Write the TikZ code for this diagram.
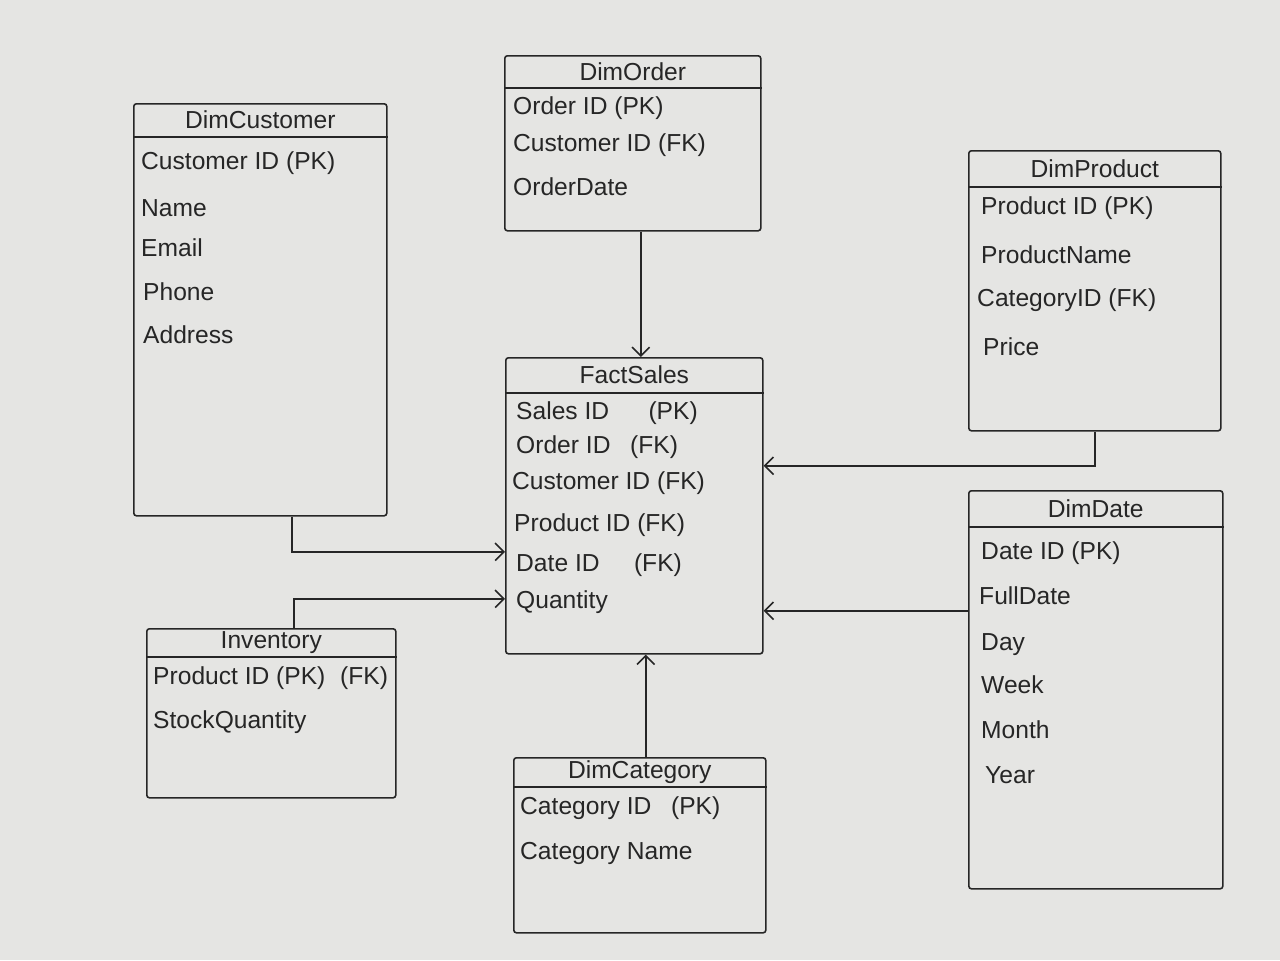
\documentclass[tikz,border=0pt]{standalone}
\usepackage{fontspec}
\setmainfont{Liberation Sans}
\usetikzlibrary{arrows.meta,calc}
\definecolor{paper}{RGB}{229,229,227}
\definecolor{ink}{RGB}{38,38,38}

\begin{document}
\begin{tikzpicture}[x=0.02cm,y=-0.02cm,
  tbl/.style={draw=ink,line width=0.9pt,rounded corners=1.5pt,inner sep=0pt,anchor=north west},
  ttl/.style={text=ink,font=\fontsize{14}{16}\selectfont},
  attr/.style={anchor=west,inner sep=0.5pt,text=ink,font=\fontsize{14}{16}\selectfont},
  link/.style={draw=ink,line width=0.9pt,-{Straight Barb[length=5pt,width=10pt]}}]
  \fill[paper] (0,0) rectangle (1280,960);
  % tables: name / x / y / width / height / header / title
  \foreach \n/\x/\y/\w/\h/\hd/\t in {cust/133/103/253/412/34/DimCustomer,
    ord/504/55/256/175/33/DimOrder, prod/968/150/252/280/37/DimProduct,
    fact/505/357/257/296/36/FactSales, date/968/490/254/398/37/DimDate,
    inv/146/628/249/169/29/Inventory, cat/513/757/252/175/30/DimCategory}{
    \node[tbl,minimum width=\w*0.02cm,minimum height=\h*0.02cm] (\n) at (\x,\y) {};
    \draw[ink,line width=0.9pt] ([yshift=-\hd*0.02cm]\n.north west) -- ([yshift=-\hd*0.02cm]\n.north east);
    \node[ttl] (\n-t) at ([yshift=-\hd*0.01cm]\n.north) {\t};}
  % attributes
  \foreach \n/\i/\x/\y/\s in {cust/1/140/163/Customer ID (PK), cust/2/140/208/Name,
    cust/3/140/248/Email, cust/4/142/292/Phone, cust/5/142/335/Address,
    ord/1/512/108/Order ID (PK), ord/2/512/145/Customer ID (FK), ord/3/512/187/OrderDate,
    prod/1/980/208/Product ID (PK), prod/2/980/255/ProductName,
    prod/3/976/300/CategoryID (FK), prod/4/982/347/Price,
    fact/1/515/413/Sales ID\hspace{1.6em}(PK), fact/2/515/447/Order ID\hspace{0.8em}(FK),
    fact/3/511/483/Customer ID (FK), fact/4/513/525/Product ID (FK),
    fact/5/515/565/Date ID\hspace{1.4em}(FK), fact/6/515/602/Quantity,
    date/1/980/553/Date ID (PK), date/2/978/596/FullDate, date/3/980/645/Day,
    date/4/980/685/Week, date/5/980/730/Month, date/6/984/775/Year,
    inv/1/152/678/Product ID (PK)\hspace{0.6em}(FK), inv/2/152/722/StockQuantity,
    cat/1/519/808/Category ID\hspace{0.8em}(PK), cat/2/519/853/Category Name}{
    \node[attr] (\n-\i) at (\x,\y) {\s};}
  % relationships
  \draw[link] ([xshift=0.64cm]cust.south) |- ([yshift=-0.92cm]fact.west);
  \draw[link] ([xshift=0.45cm]inv.north) |- ([yshift=-1.86cm]fact.west);
  \draw[link] ([xshift=0.16cm]ord.south) -- ([xshift=0.16cm]ord.south |- fact.north);
  \draw[link] (prod.south) |- ([yshift=0.8cm]fact.east);
  \draw[link] ([yshift=1.58cm]date.west) -- ([yshift=1.58cm]date.west -| fact.east);
  \draw[link] ([xshift=0.12cm]cat.north) -- ([xshift=0.12cm]cat.north |- fact.south);
\end{tikzpicture}
\end{document}
